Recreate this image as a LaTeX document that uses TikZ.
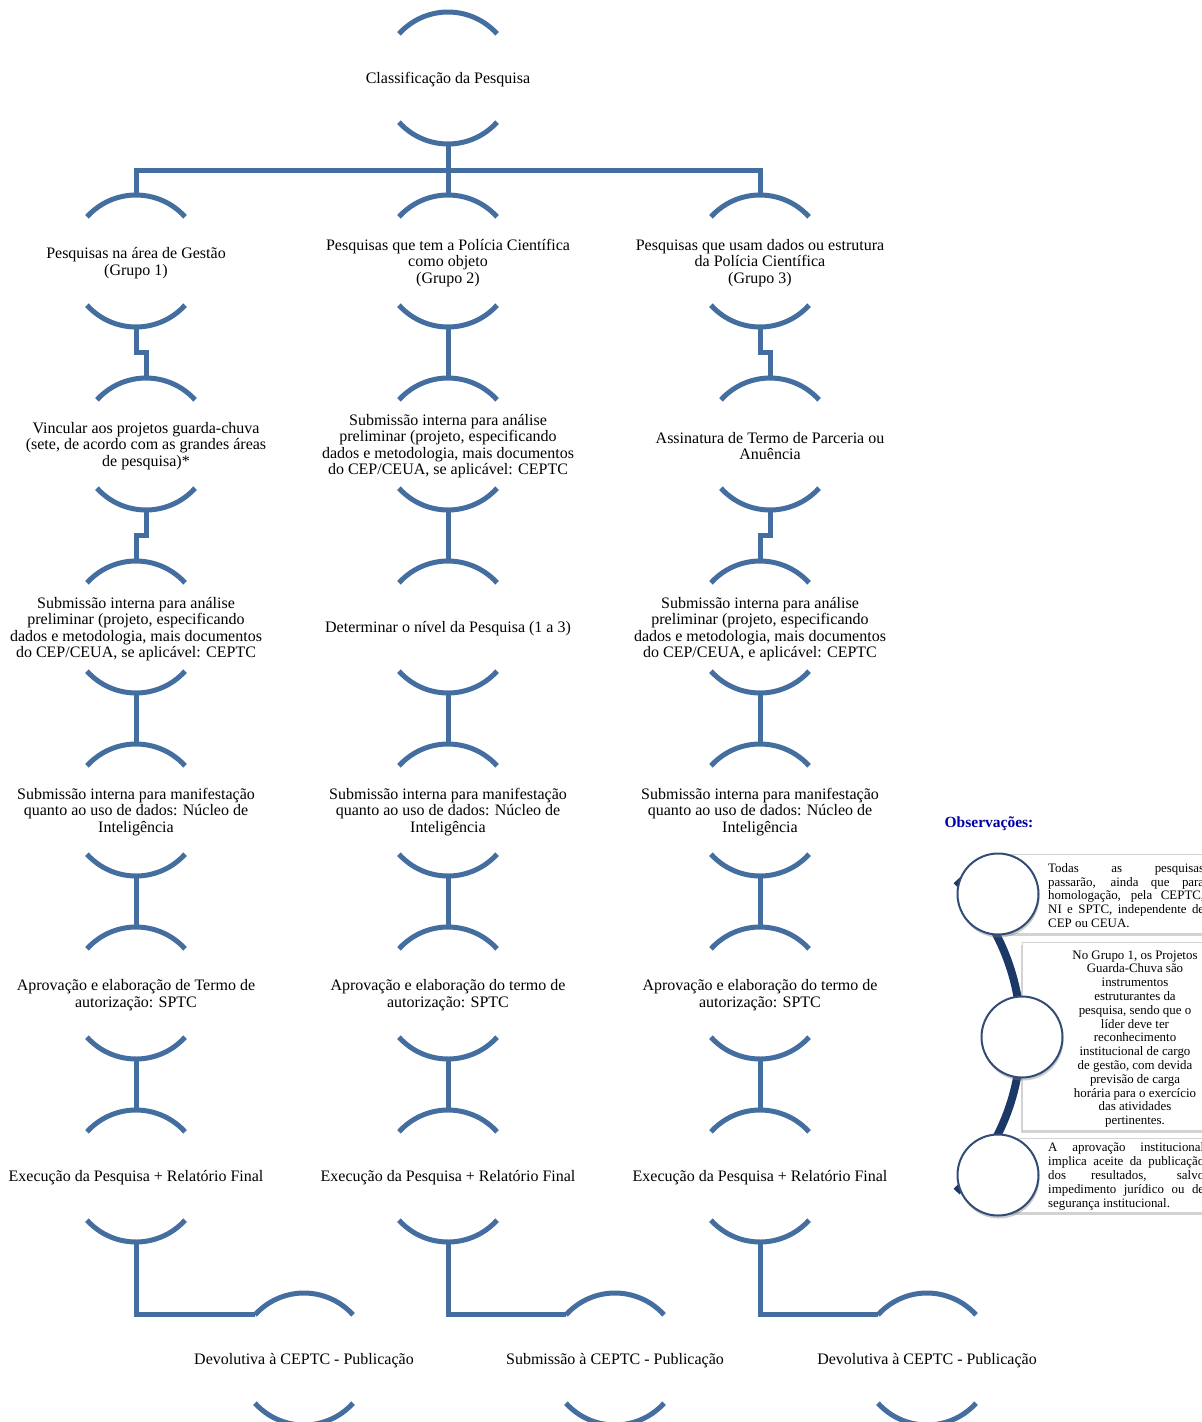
\documentclass[tikz,border=0pt]{standalone}
\usepackage{fontspec}
\setmainfont{Liberation Serif}
\usetikzlibrary{shadows}
\definecolor{myBlue}{RGB}{68,110,160}
\definecolor{myNavy}{RGB}{28,56,102}
\definecolor{myTitle}{RGB}{0,0,165}

\tikzset{
	etapa/.style={align=center, inner sep=0pt, yshift=-2pt, font=\fontsize{16}{16.5}\selectfont},
	arco/.style={myBlue, line width=5pt},
	liga/.style={draw=myBlue, line width=5pt},
	ramo/.style={to path={-- ++(0,-26) -| (\tikztotarget)}},
	jog/.style={to path={-- ++(0,-25) -| (\tikztotarget)}},
	canto/.style={to path={|- (\tikztotarget)}},
	obsbox/.style={draw=gray!35, fill=white, drop shadow={shadow xshift=-1.5pt, shadow yshift=-3pt, opacity=.35}},
	obscirc/.style={circle, draw=myNavy!90, line width=2pt, fill=white, minimum size=81pt, inner sep=0pt, drop shadow={shadow xshift=1pt, shadow yshift=-3pt, opacity=.4}},
	obstext/.style={inner sep=0pt, font=\fontsize{12.9}{13.8}\selectfont}
}

\begin{document}
\begin{tikzpicture}[x=1pt,y=1pt]
	\useasboundingbox (0,0) rectangle (1202,-1422);

	% hierarquia
	\draw (448,-78) node[etapa] (C) {Classificação da Pesquisa};

	\draw (136,-261) node[etapa] (G1) {Pesquisas na área de Gestão\\(Grupo 1)};
	\draw (448,-261) node[etapa] (G2) {Pesquisas que tem a Polícia Científica\\como objeto\\(Grupo 2)};
	\draw (760,-261) node[etapa] (G3) {Pesquisas que usam dados ou estrutura\\da Polícia Científica\\(Grupo 3)};

	\draw (146,-444) node[etapa] (V1) {Vincular aos projetos guarda-chuva\\(sete, de acordo com as grandes áreas\\de pesquisa)*};
	\draw (448,-444) node[etapa] (V2) {Submissão interna para análise\\preliminar (projeto, especificando\\dados e metodologia, mais documentos\\do CEP/CEUA, se aplicável: CEPTC};
	\draw (770,-444) node[etapa] (V3) {Assinatura de Termo de Parceria ou\\Anuência};

	\draw (136,-627) node[etapa] (S1) {Submissão interna para análise\\preliminar (projeto, especificando\\dados e metodologia, mais documentos\\do CEP/CEUA, se aplicável: CEPTC};
	\draw (448,-627) node[etapa] (S2) {Determinar o nível da Pesquisa (1 a 3)};
	\draw (760,-627) node[etapa] (S3) {Submissão interna para análise\\preliminar (projeto, especificando\\dados e metodologia, mais documentos\\do CEP/CEUA, e aplicável: CEPTC};

	\draw (136,-810) node[etapa] (M1) {Submissão interna para manifestação\\quanto ao uso de dados: Núcleo de\\Inteligência};
	\draw (448,-810) node[etapa] (M2) {Submissão interna para manifestação\\quanto ao uso de dados: Núcleo de\\Inteligência};
	\draw (760,-810) node[etapa] (M3) {Submissão interna para manifestação\\quanto ao uso de dados: Núcleo de\\Inteligência};

	\draw (136,-993) node[etapa] (T1) {Aprovação e elaboração de Termo de\\autorização: SPTC};
	\draw (448,-993) node[etapa] (T2) {Aprovação e elaboração do termo de\\autorização: SPTC};
	\draw (760,-993) node[etapa] (T3) {Aprovação e elaboração do termo de\\autorização: SPTC};

	\draw (136,-1176) node[etapa] (X1) {Execução da Pesquisa + Relatório Final};
	\draw (448,-1176) node[etapa] (X2) {Execução da Pesquisa + Relatório Final};
	\draw (760,-1176) node[etapa] (X3) {Execução da Pesquisa + Relatório Final};

	\draw (304,-1359) node[etapa] (P1) {Devolutiva à CEPTC - Publicação};
	\draw (615,-1359) node[etapa] (P2) {Submissão à CEPTC - Publicação};
	\draw (927,-1359) node[etapa] (P3) {Devolutiva à CEPTC - Publicação};

	% arcos em volta de cada etapa
	\foreach \n in {C,G1,G2,G3,V1,V2,V3,S1,S2,S3,M1,M2,M3,T1,T2,T3,X1,X2,X3,P1,P2,P3} {
		\coordinate (\n-c) at ([yshift=2]\n.center);
		\draw[arco] ([shift={(42:66)}]\n-c) arc[start angle=42, end angle=138, radius=66];
		\draw[arco] ([shift={(222:66)}]\n-c) arc[start angle=222, end angle=318, radius=66];
		\coordinate (\n-t) at ([yshift=66]\n-c);
		\coordinate (\n-b) at ([yshift=-66]\n-c);
		\coordinate (\n-l) at ([shift={(138:66)}]\n-c);
	}

	\path[liga]
	(C-b) edge[ramo] (G1-t) edge[ramo] (G3-t) edge (G2-t)
	(G1-b) edge[jog] (V1-t)
	(V1-b) edge[jog] (S1-t)
	(G3-b) edge[jog] (V3-t)
	(V3-b) edge[jog] (S3-t)
	(G2-b) edge (V2-t)
	(V2-b) edge (S2-t)
	(S1-b) edge (M1-t) (S2-b) edge (M2-t) (S3-b) edge (M3-t)
	(M1-b) edge (T1-t) (M2-b) edge (T2-t) (M3-b) edge (T3-t)
	(T1-b) edge (X1-t) (T2-b) edge (X2-t) (T3-b) edge (X3-t)
	(X1-b) edge[canto] (P1-l)
	(X2-b) edge[canto] (P2-l)
	(X3-b) edge[canto] (P3-l)
	;

	% observacoes
	\draw (989,-824) node[font=\fontsize{15.5}{16.5}\selectfont\bfseries, text=myTitle, inner sep=0pt] (obs) {Observações:};

	\draw[obsbox] (1000,-854) rectangle (1240,-933);
	\draw[obsbox] (1022,-942) rectangle (1240,-1130);
	\draw[obsbox] (1000,-1138) rectangle (1240,-1212);

	\coordinate (eixo) at (801,-1036);
	\draw[myNavy, line width=8pt] ([shift={(45:220)}]eixo) arc[start angle=45, end angle=-45, radius=220];

	\draw (998,-894) node[obscirc] (O1) {};
	\draw (1022,-1037) node[obscirc] (O2) {};
	\draw (998,-1175) node[obscirc] (O3) {};

	\draw (1048,-895.5) node[obstext, anchor=west, text width=156, align=justify] (N1)
	{Todas as pesquisas\linebreak passarão, ainda que para\linebreak homologação, pela CEPTC,\linebreak NI e SPTC, independente de\linebreak CEP ou CEUA.};
	\draw (1135,-1039) node[obstext, align=center] (N2)
	{No Grupo 1, os Projetos\\Guarda-Chuva são\\instrumentos\\estruturantes da\\pesquisa, sendo que o\\líder deve ter\\reconhecimento\\institucional de cargo\\de gestão, com devida\\previsão de carga\\horária para o exercício\\das atividades\\pertinentes.};
	\draw (1048,-1176.5) node[obstext, anchor=west, text width=156, align=justify] (N3)
	{A aprovação institucional\linebreak implica aceite da publicação\linebreak dos resultados, salvo\linebreak impedimento jurídico ou de\linebreak segurança institucional.};
\end{tikzpicture}
\end{document}
